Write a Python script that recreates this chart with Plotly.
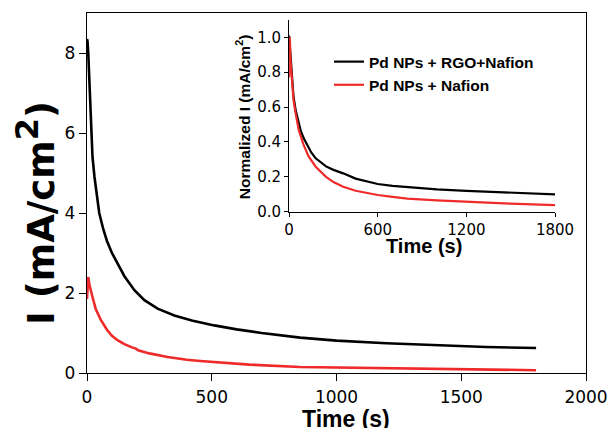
import plotly.graph_objects as go

# ---- main panel data ----
time_black = [0, 2, 5, 8, 12, 16, 22, 30, 40, 49, 65, 80, 100, 122, 150, 190, 230, 283, 350,
              420, 510, 600, 700, 854, 1000, 1200, 1400, 1600, 1800]
current_black = [8.35, 8.3, 8.0, 7.5, 6.7, 6.0, 5.4, 4.9, 4.4, 4.0, 3.6, 3.3, 3.0, 2.73, 2.42,
                 2.07, 1.82, 1.61, 1.44, 1.31, 1.19, 1.09, 1.0, 0.885, 0.81, 0.745, 0.69, 0.65, 0.625]

time_red = [0, 2, 5, 10, 15, 22, 35, 56, 80, 100, 122, 150, 180, 196, 205, 250, 323, 400, 454,
            520, 650, 854, 1050, 1254, 1500, 1800]
current_red = [1.85, 2.3, 2.4, 2.2, 2.05, 1.9, 1.6, 1.32, 1.08, 0.93, 0.82, 0.72, 0.64, 0.61, 0.57,
               0.49, 0.40, 0.33, 0.30, 0.27, 0.21, 0.15, 0.13, 0.11, 0.09, 0.07]

# ---- inset data (normalized) ----
time_in_black = [0, 5, 10, 20, 30, 45, 60, 80, 100, 118, 150, 180, 250, 300, 366, 450, 520, 600,
                 700, 800, 1000, 1200, 1500, 1800]
norm_black = [1.01, 0.95, 0.86, 0.75, 0.66, 0.58, 0.52, 0.46, 0.42, 0.39, 0.34, 0.306, 0.26, 0.24,
              0.22, 0.19, 0.175, 0.159, 0.148, 0.14, 0.128, 0.119, 0.108, 0.10]

time_in_red = [0, 3, 5, 10, 20, 30, 45, 65, 95, 130, 180, 200, 250, 300, 366, 450, 520, 600, 700,
               800, 1000, 1200, 1500, 1800]
norm_red = [0.77, 0.95, 1.0, 0.86, 0.74, 0.64, 0.56, 0.47, 0.39, 0.32, 0.258, 0.24, 0.2, 0.17,
            0.143, 0.12, 0.107, 0.096, 0.085, 0.075, 0.065, 0.057, 0.046, 0.038]

series_names = ["Pd NPs + RGO+Nafion", "Pd NPs + Nafion"]
main_xticks = [0, 500, 1000, 1500, 2000]
main_yticks = [0, 2, 4, 6, 8]
inset_xticks = [0, 600, 1200, 1800]
inset_yticks = [0.0, 0.2, 0.4, 0.6, 0.8, 1.0]
inset_ytick_labels = ["0.0", "0.2", "0.4", "0.6", "0.8", "1.0"]

BLACK = "#000000"
RED = "#ee2a2a"

fig = go.Figure()
fig.add_trace(go.Scatter(x=time_black, y=current_black, mode="lines",
                         line=dict(color=BLACK, width=2.6), showlegend=False,
                         xaxis="x", yaxis="y"))
fig.add_trace(go.Scatter(x=time_red, y=current_red, mode="lines",
                         line=dict(color=RED, width=2.6), showlegend=False,
                         xaxis="x", yaxis="y"))
fig.add_trace(go.Scatter(x=time_in_black, y=norm_black, mode="lines",
                         name="<b>" + series_names[0] + "</b>",
                         line=dict(color=BLACK, width=2.2), xaxis="x2", yaxis="y2"))
fig.add_trace(go.Scatter(x=time_in_red, y=norm_red, mode="lines",
                         name="<b>" + series_names[1] + "</b>",
                         line=dict(color=RED, width=2.2), xaxis="x2", yaxis="y2"))

tickfont_main = dict(family="DejaVu Sans", size=17, color="black")
tickfont_in = dict(family="DejaVu Sans", size=15, color="black")

fig.update_layout(
    width=611, height=428,
    margin=dict(l=87, r=25, t=13, b=55, autoexpand=False),
    paper_bgcolor="white", plot_bgcolor="white",
    xaxis=dict(domain=[0, 1], range=[0, 2000], tickvals=main_xticks, automargin=False,
               showline=True, mirror=True, linecolor="black", linewidth=1.4,
               ticks="outside", ticklen=7, tickwidth=1.4, tickcolor="black",
               ticklabelstandoff=1,
               showgrid=False, zeroline=False, tickfont=tickfont_main),
    yaxis=dict(domain=[0, 1], range=[0, 9], tickvals=main_yticks, automargin=False,
               showline=True, mirror=True, linecolor="black", linewidth=1.4,
               ticks="outside", ticklen=7, tickwidth=1.4, tickcolor="black",
               showgrid=False, zeroline=False, tickfont=tickfont_main),
    xaxis2=dict(domain=[0.405, 0.938], range=[0, 1800], tickvals=inset_xticks, automargin=False,
                anchor="y2", showline=True, mirror=False, linecolor="black", linewidth=1.1,
                ticks="outside", ticklen=4, tickwidth=1.1, tickcolor="black",
                showgrid=False, zeroline=False, tickfont=tickfont_in),
    yaxis2=dict(domain=[0.448, 0.981], range=[0, 1.1], tickvals=inset_yticks, automargin=False,
                ticktext=inset_ytick_labels,
                anchor="x2", showline=True, mirror=False, linecolor="black", linewidth=1.1,
                ticks="outside", ticklen=4, tickwidth=1.1, tickcolor="black",
                showgrid=False, zeroline=False, tickfont=tickfont_in),
    legend=dict(x=0.485, y=0.911, xanchor="left", yanchor="top",
                bgcolor="rgba(0,0,0,0)", borderwidth=0,
                font=dict(family="Arial", size=15.5, color="black"),
                tracegroupgap=0),
    annotations=[
        dict(text="<b>Time (s)</b>", x=0.519, y=-0.127, xref="paper", yref="paper",
             showarrow=False, xanchor="center", yanchor="middle",
             font=dict(family="Arial", size=23, color="black")),
        dict(text="<b>I (mA/cm<sup><span style='font-size:32px'>2</span></sup>)</b>",
             x=-0.102, y=0.445, xref="paper", yref="paper", textangle=-90,
             showarrow=False, xanchor="center", yanchor="middle",
             font=dict(family="DejaVu Sans", size=37, color="black")),
        dict(text="<b>Time (s)</b>", x=0.676, y=0.353, xref="paper", yref="paper",
             showarrow=False, xanchor="center", yanchor="middle",
             font=dict(family="Arial", size=20, color="black")),
        dict(text="<b>Normalized I (mA/cm<sup>2</sup>)</b>", x=0.314, y=0.7125,
             xref="paper", yref="paper", textangle=-90,
             showarrow=False, xanchor="center", yanchor="middle",
             font=dict(family="Arial", size=15.5, color="black")),
    ],
)

fig.write_html("out.html", config={"displayModeBar": False},
               post_script="document.body.style.margin='0';")
